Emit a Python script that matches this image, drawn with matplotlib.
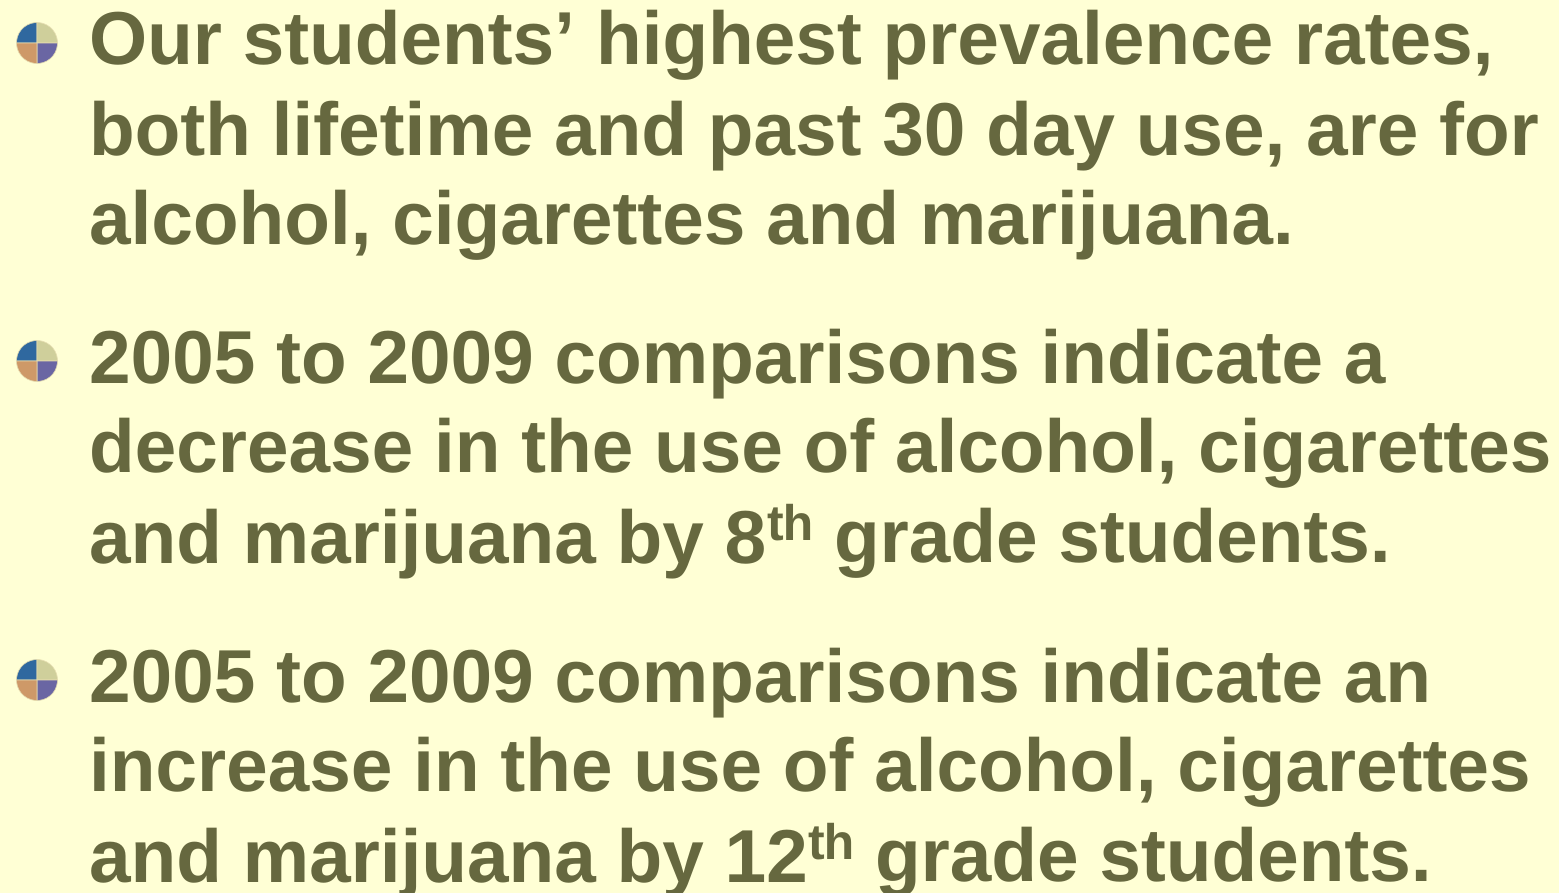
import matplotlib
matplotlib.use('Agg')
import matplotlib.pyplot as plt
from matplotlib.patches import Wedge

plt.rcParams['text.hinting'] = 'no_hinting'

BG = '#FFFFD5'
TEXT = '#66683F'
FONT = 'Liberation Sans'
MAIN = 53.8
SUP = 36

# (x, baseline y, text, size) in image pixels
lines = [
    (89.5, 64.5, 'Our students\u2019', MAIN),
    (596.5, 64.5, 'highest prevalence rates,', MAIN),
    (89.5, 154.5, 'both lifetime and past 30 day use, are for', MAIN),
    (89.5, 244.5, 'alcohol, cigarettes and marijuana.', MAIN),
    (89.5, 382.5, '2005 to 2009 comparisons indicate a', MAIN),
    (89.5, 472.5, 'decrease in the use of alcohol, cigarettes', MAIN),
    (89.5, 562.5, 'and marijuana by 8', MAIN),
    (766, 540, 'th', SUP),
    (834.5, 562.5, 'grade students.', MAIN),
    (89.5, 701.5, '2005 to 2009 comparisons indicate an', MAIN),
    (89.5, 791.5, 'increase in the use of alcohol, cigarettes', MAIN),
    (89.5, 881.5, 'and marijuana by 12', MAIN),
    (807, 859, 'th', SUP),
    (875.5, 881.5, 'grade students.', MAIN),
]

bullet_centers = [(37, 43), (37, 361), (37, 680)]
bullet_radius = 20.5
# quarter colours: start angle, end angle, colour (y axis is inverted)
quarters = [
    (180, 270, '#2F689F'),
    (270, 360, '#CFCF9B'),
    (0, 90, '#6A66A3'),
    (90, 180, '#CE9968'),
]

fig = plt.figure(figsize=(15.59, 8.93), dpi=100, facecolor=BG)
ax = fig.add_axes([0, 0, 1, 1])
ax.set_xlim(0, 1559)
ax.set_ylim(893, 0)
ax.axis('off')

for x, y, s, size in lines:
    ax.text(x, y, s, fontsize=size, fontweight='bold', family=FONT,
            color=TEXT, ha='left', va='baseline')

for cx, cy in bullet_centers:
    for a, b, col in quarters:
        ax.add_patch(Wedge((cx, cy), bullet_radius, a, b, facecolor=col,
                           edgecolor='#E6DDB0', linewidth=0.5))

fig.savefig('out.png', dpi=100, facecolor=BG)
